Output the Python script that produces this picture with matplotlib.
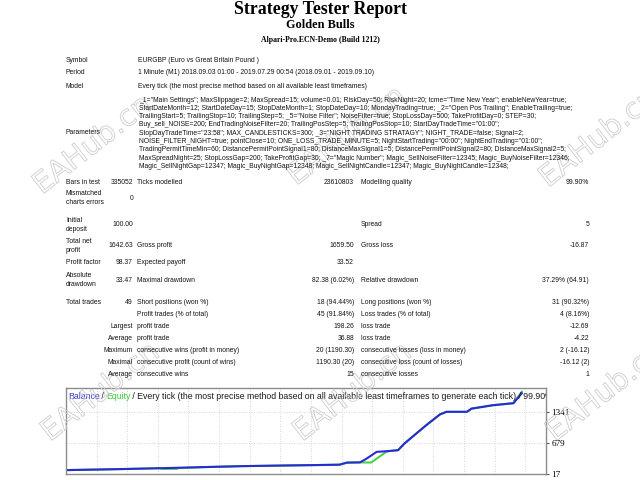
import matplotlib
matplotlib.use("Agg")
import matplotlib.pyplot as plt
import matplotlib.patheffects as pe

# report header
title = "Strategy Tester Report"
expert = "Golden Bulls"
server = "Alpari-Pro.ECN-Demo (Build 1212)"

symbol = "EURGBP (Euro vs Great Britain Pound )"
period = "1 Minute (M1) 2018.09.03 01:00 - 2019.07.29 00:54 (2018.09.01 - 2019.09.10)"
model = "Every tick (the most precise method based on all available least timeframes)"
parameters = [
    '_1="Main Settings"; MaxSlippage=2; MaxSpread=15; volume=0.01; RiskDay=50; RiskNight=20; tcme="Time New Year"; enableNewYear=true;',
    'StartDateMonth=12; StartDateDay=15; StopDateMonth=1; StopDateDay=10; MondayTrading=true; _2="Open Pos Trailing"; EnableTrailing=true;',
    'TrailingStart=5; TrailingStop=10; TrailingStep=5; _5="Noise Filter"; NoiseFilter=true; StopLossDay=500; TakeProfitDay=0; STEP=30;',
    'Buy_sell_NOISE=200; EndTradingNoiseFilter=20; TrailingPosStep=5; TrailingPosStop=10; StartDayTradeTime="01:00";',
    'StopDayTradeTime="23:58"; MAX_CANDLESTICKS=300; _3="NIGHT TRADING STRATAGY"; NIGHT_TRADE=false; Signal=2;',
    'NOISE_FILTER_NIGHT=true; pointClose=10; ONE_LOSS_TRADE_MINUTE=5; NightStartTrading="00:00"; NightEndTrading="01:00";',
    'TradingPermitTimeMin=60; DistancePermitPointSignal1=80; DistanceMaxSignal1=5; DistancePermitPointSignal2=80; DistanceMaxSignal2=5;',
    'MaxSpreadNight=25; StopLossGap=200; TakeProfitGap=30; _7="Magic Number"; Magic_SellNoiseFilter=12345; Magic_BuyNoiseFilter=12346;',
    'Magic_SellNightGap=12347; Magic_BuyNightGap=12348; Magic_SellNightCandle=12347; Magic_BuyNightCandle=12348;',
]

# summary table, one entry per row
col1_labels = ["Bars in test", "Mismatched\ncharts errors", "Initial\ndeposit", "Total net\nprofit",
               "Profit factor", "Absolute\ndrawdown", "Total trades", "", "", "", "", "", ""]
col1_values = ["335052", "0", "100.00", "1642.63", "98.37", "33.47", "49", "",
               "Largest", "Average", "Maximum", "Maximal", "Average"]
col2_labels = ["Ticks modelled", "", "", "Gross profit", "Expected payoff", "Maximal drawdown",
               "Short positions (won %)", "Profit trades (% of total)", "profit trade", "profit trade",
               "consecutive wins (profit in money)", "consecutive profit (count of wins)", "consecutive wins"]
col2_values = ["23610803", "", "", "1659.50", "33.52", "82.38 (6.02%)", "18 (94.44%)", "45 (91.84%)",
               "198.26", "36.88", "20 (1190.30)", "1190.30 (20)", "15"]
col3_labels = ["Modelling quality", "", "Spread", "Gross loss", "", "Relative drawdown",
               "Long positions (won %)", "Loss trades (% of total)", "loss trade", "loss trade",
               "consecutive losses (loss in money)", "consecutive loss (count of losses)", "consecutive losses"]
col3_values = ["99.90%", "", "5", "-16.87", "", "37.29% (64.91)", "31 (90.32%)", "4 (8.16%)",
               "-12.69", "-4.22", "2 (-16.12)", "-16.12 (2)", "1"]

# balance / equity curve, x = deal number
bal_x = [0, 5, 10, 15, 19, 24, 27, 29.4, 30.2, 31.6, 32.3, 33.4, 34.5, 35.7, 36.4, 37.7,
         38.8, 40.2, 40.9, 43.1, 43.6, 45.9, 48.1, 49]
bal_v = [100, 118, 140, 165, 185, 200, 208, 216, 260, 265, 344, 490, 504, 526, 671, 889,
         1071, 1289, 1345, 1345, 1413, 1486, 1529, 1742]
eq_x = [0, 5, 10, 10.4, 11.9, 12.2, 15, 19, 24, 27, 29.4, 30.2, 31.6, 32.8, 34.5, 35.7,
        36.4, 37.7, 38.8, 40.2, 40.9, 43.1, 43.6, 45.9, 48.1, 49]
eq_v = [100, 118, 140, 126, 126, 145, 165, 185, 200, 208, 216, 260, 265, 262, 500, 526,
        671, 889, 1071, 1289, 1345, 1345, 1413, 1486, 1529, 1775]
y_ticks = [17, 679, 1341]
chart_caption = "Every tick (the most precise method based on all available least timeframes to generate each tick) / 99.90%"

W, H = 640, 480
fig = plt.figure(figsize=(6.4, 4.8), dpi=100)
SANS = "Liberation Sans"
SERIF = "Liberation Serif"


def put(x, y, s, ha="left", size=4.9, **kw):
    kw.setdefault("family", SANS)
    kw.setdefault("color", "#141414")
    return fig.text(x / W, 1 - y / H, s, ha=ha, va="center", fontsize=size, **kw)


# watermarks (hollow outlined text)
for wx, wy in [(42, 195), (296, 186), (548, 188), (50, 442), (302, 442), (555, 442)]:
    fig.text(wx / W, 1 - wy / H, "EAHub.cn", fontsize=21, rotation=38, rotation_mode="anchor",
             ha="left", va="baseline", family="DejaVu Sans", color="none", zorder=0,
             path_effects=[pe.withStroke(linewidth=0.6, foreground="#cccccc")])

# titles
put(320, 9, title, ha="center", size=12.8, family=SERIF, weight="bold", color="black")
put(320, 25, expert, ha="center", size=8.8, family=SERIF, weight="bold", color="black")
put(320, 40, server, ha="center", size=5.6, family=SERIF, weight="bold", color="black")

# header block
put(66, 60, "Symbol")
put(138, 60, symbol)
put(66, 73, "Period")
put(138, 73, period)
put(66, 86, "Model")
put(138, 86, model)
put(66, 132, "Parameters")
for i, line in enumerate(parameters):
    put(139, 100 + 8.3 * i, line)

# summary table
row_y = [182, 198, 225, 246, 263, 280, 302, 314, 327, 339, 351, 363, 374]
for i, y in enumerate(row_y):
    put(66, y, col1_labels[i], linespacing=1.3)
    put(133, y, col1_values[i], ha="right")
    put(137, y, col2_labels[i])
    put(354, y, col2_values[i], ha="right")
    put(361, y, col3_labels[i])
    put(589, y, col3_values[i], ha="right")

# balance chart
x_max = 51.6
ax = fig.add_axes([66 / W, 1 - 474 / H, (546 - 66) / W, (474 - 388) / H])
ax.plot(eq_x, eq_v, color="#4cd04c", lw=1.5, solid_joinstyle="round")
ax.plot(bal_x, bal_v, color="#2a2ad2", lw=1.5, solid_joinstyle="round")
ax.set_xlim(0, x_max)
ax.set_ylim(17, 17 + 86 / 31 * 662)
step = x_max / 15.68
ax.set_xticks([step * k for k in range(1, 16)])
ax.set_yticks(y_ticks)
ax.set_yticklabels([str(v) for v in y_ticks], family=SERIF, fontsize=6.6)
ax.tick_params(axis="x", length=0, labelbottom=False)
ax.tick_params(axis="y", left=False, labelleft=False, right=True, labelright=True,
               length=2, pad=2, color="#555555")
ax.grid(True, color="#c8c8c8", lw=0.6, ls=(0, (1, 2)))
for sp in ax.spines.values():
    sp.set_color("#8c8c8c")
    sp.set_linewidth(1.0)

# caption with coloured words, placed one after another
fig.canvas.draw()
renderer = fig.canvas.get_renderer()
x0 = 0.004
pieces = [("Balance", "#3a3ac8"), (" / ", "#1c1c1c"), ("Equity", "#3cc83c"),
          (" / " + chart_caption, "#1c1c1c")]
for text, col in pieces:
    t = ax.text(x0, 0.9, text, transform=ax.transAxes, fontsize=6.35, family=SANS,
                color=col, va="center", ha="left", clip_on=True)
    bb = t.get_window_extent(renderer)
    x0 = ax.transAxes.inverted().transform((bb.x1 - 0.4, bb.y0))[0]

fig.savefig("out.png", dpi=100)
